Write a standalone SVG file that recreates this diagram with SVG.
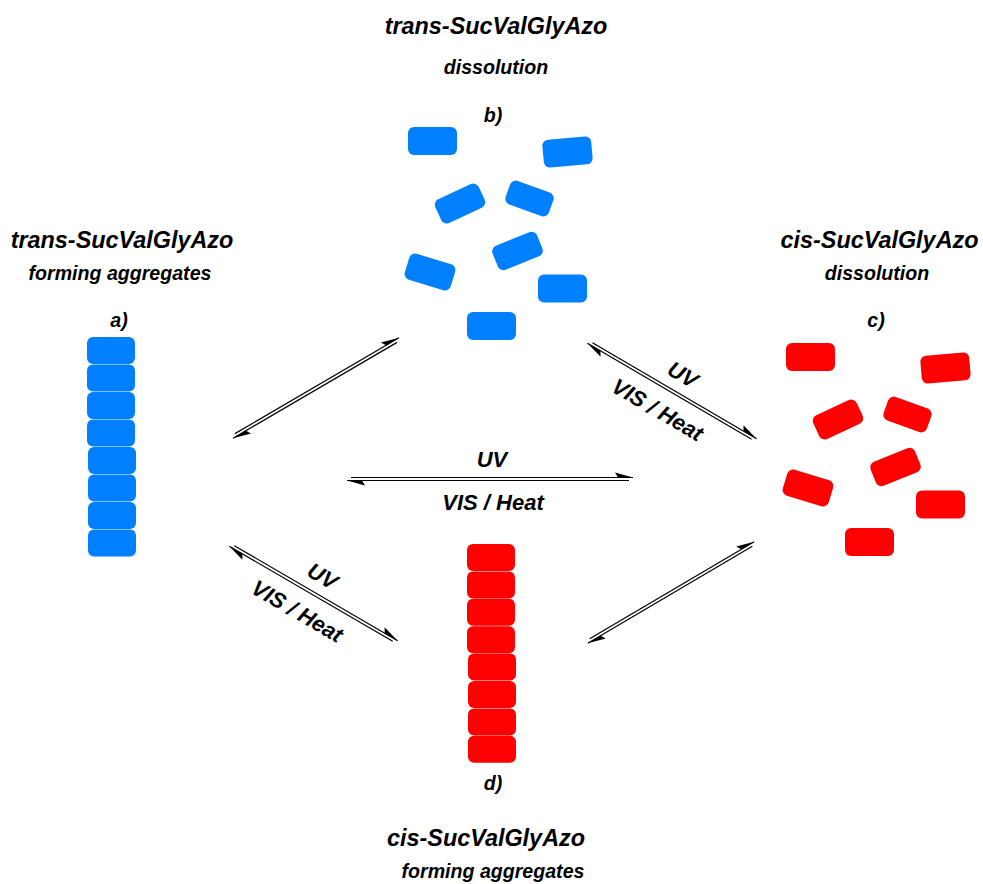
<svg xmlns="http://www.w3.org/2000/svg" width="983" height="884" viewBox="0 0 983 884">
<style>
.t{font-family:"Liberation Sans",Arial,sans-serif;font-weight:bold;font-style:italic;fill:#000;text-anchor:middle}
.h{font-size:23.4px}
.s{font-size:19.6px}
.l{font-size:22px}
.b{fill:#0080ff}
.r{fill:#ff0000}
.ln{stroke:#000;stroke-width:1.2;fill:none}
.hd{fill:#000}
</style>
<rect width="983" height="884" fill="#fff"/>
<g id="node-a">
<text class="t h" x="122" y="248">trans-SucValGlyAzo</text>
<text class="t s" x="120" y="280">forming aggregates</text>
<text class="t s" x="119" y="327">a)</text>
<g class="b">
<rect x="87" y="337" width="48" height="27" rx="6"/>
<rect x="87" y="364.5" width="48" height="27" rx="6"/>
<rect x="87" y="392" width="48" height="27" rx="6"/>
<rect x="87" y="419.5" width="48" height="27" rx="6"/>
<rect x="88" y="447" width="48" height="27" rx="6"/>
<rect x="88" y="474.5" width="48" height="27" rx="6"/>
<rect x="88" y="502" width="48" height="27" rx="6"/>
<rect x="88" y="529.5" width="48" height="27" rx="6"/>
</g>
</g>
<g id="node-b">
<text class="t h" x="496" y="34">trans-SucValGlyAzo</text>
<text class="t s" x="496" y="74">dissolution</text>
<text class="t s" x="493" y="122">b)</text>
<g class="b">
<rect x="-24.5" y="-14" width="49" height="28" rx="6" transform="translate(432.5,141)"/>
<rect x="-24.5" y="-14" width="49" height="28" rx="6" transform="translate(567.5,152) rotate(-5)"/>
<rect x="-24" y="-13" width="48" height="26" rx="6" transform="translate(460,203.5) rotate(-25)"/>
<rect x="-23" y="-12.5" width="46" height="25" rx="6" transform="translate(529.5,198.5) rotate(20)"/>
<rect x="-24" y="-13" width="48" height="26" rx="6" transform="translate(517.5,251) rotate(-22)"/>
<rect x="-24" y="-13.5" width="48" height="27" rx="6" transform="translate(430,272) rotate(17)"/>
<rect x="-24.5" y="-14" width="49" height="28" rx="6" transform="translate(562.5,288.5)"/>
<rect x="-24.5" y="-14" width="49" height="28" rx="6" transform="translate(491.5,326)"/>
</g>
</g>
<g id="node-c">
<text class="t h" x="879.5" y="248">cis-SucValGlyAzo</text>
<text class="t s" x="877" y="280">dissolution</text>
<text class="t s" x="876" y="327">c)</text>
<g class="r">
<rect x="-24.5" y="-14" width="49" height="28" rx="6" transform="translate(810.5,357)"/>
<rect x="-24.5" y="-14" width="49" height="28" rx="6" transform="translate(945.5,368) rotate(-5)"/>
<rect x="-24" y="-13" width="48" height="26" rx="6" transform="translate(838,419.5) rotate(-25)"/>
<rect x="-23" y="-12.5" width="46" height="25" rx="6" transform="translate(907.5,414.5) rotate(20)"/>
<rect x="-24" y="-13" width="48" height="26" rx="6" transform="translate(895.5,467) rotate(-22)"/>
<rect x="-24" y="-13.5" width="48" height="27" rx="6" transform="translate(808,488) rotate(17)"/>
<rect x="-24.5" y="-14" width="49" height="28" rx="6" transform="translate(940.5,504.5)"/>
<rect x="-24.5" y="-14" width="49" height="28" rx="6" transform="translate(869.5,542)"/>
</g>
</g>
<g id="node-d">
<g class="r">
<rect x="467" y="544" width="48" height="27" rx="6"/>
<rect x="467" y="571.4" width="48" height="27" rx="6"/>
<rect x="467" y="598.8" width="48" height="27" rx="6"/>
<rect x="467" y="626.2" width="48" height="27" rx="6"/>
<rect x="468" y="653.6" width="48" height="27" rx="6"/>
<rect x="468" y="681" width="48" height="27" rx="6"/>
<rect x="468" y="708.4" width="48" height="27" rx="6"/>
<rect x="468" y="735.8" width="48" height="27" rx="6"/>
</g>
<text class="t s" x="493" y="790">d)</text>
<text class="t h" x="486" y="846">cis-SucValGlyAzo</text>
<text class="t s" x="493" y="878">forming aggregates</text>
</g>
<g id="connectors">
<g id="arrow-ab" transform="translate(316,388) rotate(-30.3)">
<line class="ln" x1="-93" y1="-1.5" x2="97" y2="-1.5"/>
<line class="ln" x1="-97" y1="1.5" x2="93" y2="1.5"/>
<polygon class="hd" points="97,-1.5 79,-6.5 82,-1.5"/>
<polygon class="hd" points="-97,1.5 -79,6.5 -82,1.5"/>
</g>
<g id="arrow-bc" transform="translate(672,391) rotate(30.3)">
<line class="ln" x1="-93" y1="-1.5" x2="97" y2="-1.5"/>
<line class="ln" x1="-97" y1="1.5" x2="93" y2="1.5"/>
<polygon class="hd" points="97,-1.5 79,-6.5 82,-1.5"/>
<polygon class="hd" points="-97,1.5 -79,6.5 -82,1.5"/>
<text class="t l" x="1" y="-12">UV</text>
<text class="t l" x="-3" y="31">VIS / Heat</text>
</g>
<g id="arrow-ad" transform="translate(313.5,593.5) rotate(30.2)">
<line class="ln" x1="-92.5" y1="-1.5" x2="96.5" y2="-1.5"/>
<line class="ln" x1="-96.5" y1="1.5" x2="92.5" y2="1.5"/>
<polygon class="hd" points="96.5,-1.5 78.5,-6.5 81.5,-1.5"/>
<polygon class="hd" points="-96.5,1.5 -78.5,6.5 -81.5,1.5"/>
<text class="t l" x="-1" y="-12">UV</text>
<text class="t l" x="-5" y="31">VIS / Heat</text>
</g>
<g id="arrow-dc" transform="translate(671,592.5) rotate(-30.5)">
<line class="ln" x1="-93.5" y1="-1.5" x2="97.5" y2="-1.5"/>
<line class="ln" x1="-97.5" y1="1.5" x2="93.5" y2="1.5"/>
<polygon class="hd" points="97.5,-1.5 79.5,-6.5 82.5,-1.5"/>
<polygon class="hd" points="-97.5,1.5 -79.5,6.5 -82.5,1.5"/>
</g>
<g id="arrow-ac" transform="translate(490,479)">
<line class="ln" x1="-139" y1="-1.5" x2="143" y2="-1.5"/>
<line class="ln" x1="-143" y1="1.5" x2="139" y2="1.5"/>
<polygon class="hd" points="143,-1.5 125,-6.5 128,-1.5"/>
<polygon class="hd" points="-143,1.5 -125,6.5 -128,1.5"/>
<text class="t l" x="2" y="-12">UV</text>
<text class="t l" x="3" y="31">VIS / Heat</text>
</g>
</g>
</svg>
